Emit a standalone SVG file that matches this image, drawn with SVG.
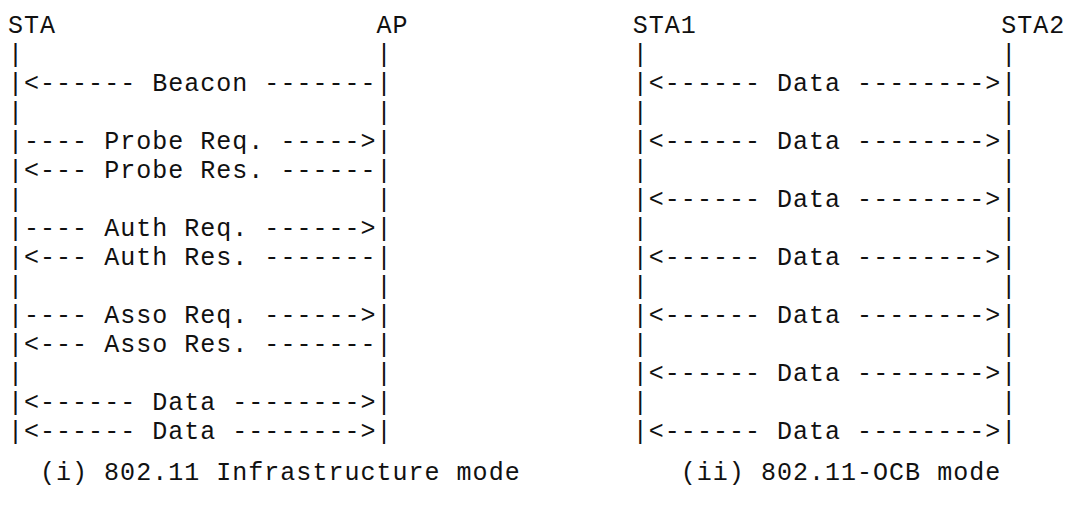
<svg xmlns="http://www.w3.org/2000/svg" width="1066" height="505" viewBox="0 0 1066 505">
  <style>
    /* monospace grid: 16.02px per column (15px glyph advance + 1.02px spacing) */
    .t { font-family: "Liberation Mono", "Courier New", monospace; font-size: 25px; letter-spacing: 1.02px; fill: #111; white-space: pre; }
  </style>
  <rect width="1066" height="505" fill="#fff"/>

  <!-- (i) infrastructure mode: stations -->
  <g id="node-sta"><text class="t" x="8" y="33">STA</text></g>
  <g id="node-ap"><text class="t" x="376.5" y="33">AP</text></g>

  <!-- (ii) OCB mode: stations -->
  <g id="node-sta1"><text class="t" x="632.8" y="33">STA1</text></g>
  <g id="node-sta2"><text class="t" x="1001.2" y="33">STA2</text></g>

  <!-- message exchanges, one text row per line, lifelines drawn with '|' -->
  <g id="connectors">
    <g id="infra-exchange">
      <text class="t" x="8" y="62">|                      |</text>
      <text class="t" x="8" y="91">|&lt;------ Beacon -------|</text>
      <text class="t" x="8" y="120">|                      |</text>
      <text class="t" x="8" y="149">|---- Probe Req. -----&gt;|</text>
      <text class="t" x="8" y="178">|&lt;--- Probe Res. ------|</text>
      <text class="t" x="8" y="207">|                      |</text>
      <text class="t" x="8" y="236">|---- Auth Req. ------&gt;|</text>
      <text class="t" x="8" y="265">|&lt;--- Auth Res. -------|</text>
      <text class="t" x="8" y="294">|                      |</text>
      <text class="t" x="8" y="323">|---- Asso Req. ------&gt;|</text>
      <text class="t" x="8" y="352">|&lt;--- Asso Res. -------|</text>
      <text class="t" x="8" y="381">|                      |</text>
      <text class="t" x="8" y="410">|&lt;------ Data --------&gt;|</text>
      <text class="t" x="8" y="439">|&lt;------ Data --------&gt;|</text>
    </g>
    <g id="ocb-exchange">
      <text class="t" x="632.8" y="62">|                      |</text>
      <text class="t" x="632.8" y="91">|&lt;------ Data --------&gt;|</text>
      <text class="t" x="632.8" y="120">|                      |</text>
      <text class="t" x="632.8" y="149">|&lt;------ Data --------&gt;|</text>
      <text class="t" x="632.8" y="178">|                      |</text>
      <text class="t" x="632.8" y="207">|&lt;------ Data --------&gt;|</text>
      <text class="t" x="632.8" y="236">|                      |</text>
      <text class="t" x="632.8" y="265">|&lt;------ Data --------&gt;|</text>
      <text class="t" x="632.8" y="294">|                      |</text>
      <text class="t" x="632.8" y="323">|&lt;------ Data --------&gt;|</text>
      <text class="t" x="632.8" y="352">|                      |</text>
      <text class="t" x="632.8" y="381">|&lt;------ Data --------&gt;|</text>
      <text class="t" x="632.8" y="410">|                      |</text>
      <text class="t" x="632.8" y="439">|&lt;------ Data --------&gt;|</text>
    </g>
  </g>

  <!-- captions -->
  <text class="t" x="40" y="480">(i) 802.11 Infrastructure mode</text>
  <text class="t" x="680.8" y="480">(ii) 802.11-OCB mode</text>
</svg>
